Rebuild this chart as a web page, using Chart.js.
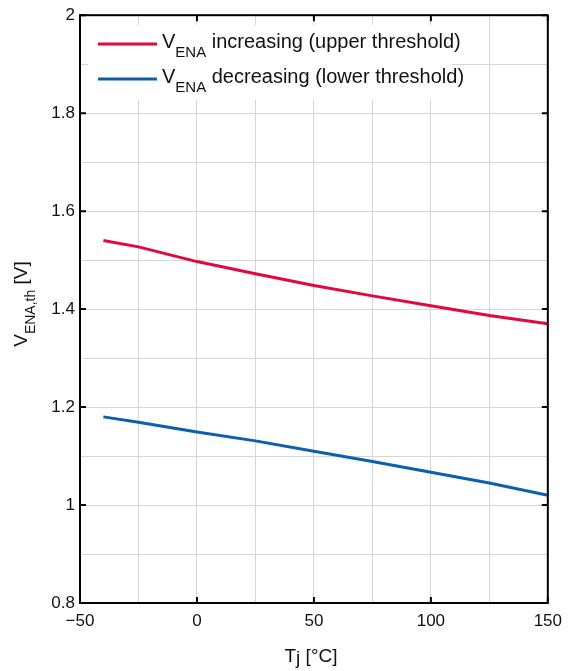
<!DOCTYPE html>
<html>
<head>
<meta charset="utf-8">
<script src="https://cdn.jsdelivr.net/npm/chart.js@4"></script>
<style>
  html, body { margin: 0; padding: 0; background: #fff; }
  #wrap { width: 570px; height: 671px; }
</style>
</head>
<body>
<div id="wrap"><canvas id="chart" width="570" height="671"></canvas></div>
<script>
// values
const temps = [-40, -25, 0, 25, 50, 75, 100, 125, 150];
const upperThreshold = [1.540, 1.527, 1.497, 1.472, 1.448, 1.427, 1.407, 1.387, 1.370];
const lowerThreshold = [1.180, 1.169, 1.149, 1.131, 1.110, 1.089, 1.067, 1.045, 1.020];
const xTicks = [-50, 0, 50, 100, 150];
const yTicks = [0.8, 1, 1.2, 1.4, 1.6, 1.8, 2];

const RED = '#e3073d';
const BLUE = '#0b5fae';
const FONT = '"Liberation Sans", Arial, Helvetica, sans-serif';

const isMajor = (v, list) => list.some(t => Math.abs(t - v) < 1e-6);

// draws text pieces (with sub offsets) from x on baseline y
function subText(ctx, x, y, parts) {
    parts.forEach(p => {
        ctx.font = p.size + 'px ' + FONT;
        ctx.fillText(p.text, x, y + (p.dy || 0));
        x += ctx.measureText(p.text).width;
    });
    return x;
}
function subWidth(ctx, parts) {
    return parts.reduce((w, p) => { ctx.font = p.size + 'px ' + FONT; return w + ctx.measureText(p.text).width; }, 0);
}

const frame = {
    id: 'frame',
    beforeDatasetsDraw(chart) {
        // legend box hides the grid behind it
        const ctx = chart.ctx;
        ctx.save();
        ctx.fillStyle = '#fff';
        ctx.fillRect(88, 25, 364, 75);
        ctx.restore();
    },
    afterDraw(chart) {
        const { ctx, chartArea: a, scales } = chart;
        ctx.save();
        ctx.strokeStyle = '#000';
        ctx.lineWidth = 2;
        ctx.strokeRect(a.left, a.top, a.right - a.left, a.bottom - a.top);
        // inward major ticks
        const len = 6;
        ctx.beginPath();
        xTicks.forEach(v => {
            const px = scales.x.getPixelForValue(v);
            ctx.moveTo(px, a.bottom); ctx.lineTo(px, a.bottom - len);
            ctx.moveTo(px, a.top); ctx.lineTo(px, a.top + len);
        });
        yTicks.forEach(v => {
            const py = scales.y.getPixelForValue(v);
            ctx.moveTo(a.left, py); ctx.lineTo(a.left + len, py);
            ctx.moveTo(a.right, py); ctx.lineTo(a.right - len, py);
        });
        ctx.stroke();

        // legend
        ctx.fillStyle = '#111';
        ctx.textBaseline = 'alphabetic';
        ctx.textAlign = 'left';
        const rows = [
            { color: RED, y: 44, label: ' increasing (upper threshold)' },
            { color: BLUE, y: 79, label: ' decreasing (lower threshold)' },
        ];
        rows.forEach(r => {
            ctx.strokeStyle = r.color;
            ctx.lineWidth = 3;
            ctx.beginPath(); ctx.moveTo(98, r.y); ctx.lineTo(157, r.y); ctx.stroke();
            subText(ctx, 162, r.y + 4, [
                { text: 'V', size: 20 },
                { text: 'ENA', size: 15, dy: 9 },
                { text: r.label, size: 20 },
            ]);
        });

        // x axis title
        const xt = [{ text: 'T', size: 19 }, { text: 'j', size: 19, dy: 2 }, { text: ' [°C]', size: 19 }];
        const xw = subWidth(ctx, xt);
        subText(ctx, 311 - xw / 2, 662, xt);

        // y axis title
        const yt = [{ text: 'V', size: 19 }, { text: 'ENA,th', size: 14, dy: 8 }, { text: ' [V]', size: 19 }];
        const yw = subWidth(ctx, yt);
        ctx.translate(27, 304);
        ctx.rotate(-Math.PI / 2);
        subText(ctx, -yw / 2, 0, yt);
        ctx.restore();
    }
};

new Chart(document.getElementById('chart'), {
    type: 'line',
    data: {
        datasets: [
            { label: 'upper', data: temps.map((t, i) => ({ x: t, y: upperThreshold[i] })), borderColor: RED, borderWidth: 3, pointRadius: 0, tension: 0 },
            { label: 'lower', data: temps.map((t, i) => ({ x: t, y: lowerThreshold[i] })), borderColor: BLUE, borderWidth: 3, pointRadius: 0, tension: 0 },
        ],
    },
    options: {
        responsive: false, animation: false,
        layout: { padding: { top: 15, right: 21, left: 0, bottom: 0 } },
        plugins: { legend: { display: false }, tooltip: { enabled: false } },
        scales: {
            x: {
                type: 'linear', min: -50, max: 150,
                afterFit: s => { s.height = 68; },
                grid: { color: '#d6d6d6', lineWidth: 1, drawTicks: false },
                border: { display: false },
                ticks: {
                    stepSize: 25, padding: 8, color: '#111', font: { family: FONT, size: 17 },
                    maxRotation: 0, autoSkip: false,
                    callback: v => isMajor(v, xTicks) ? (v < 0 ? '\u2212' + Math.abs(v) : String(v)) : '',
                },
            },
            y: {
                min: 0.8, max: 2,
                afterFit: s => { s.width = 80; },
                grid: { color: '#d6d6d6', lineWidth: 1, drawTicks: false },
                border: { display: false },
                ticks: {
                    stepSize: 0.1, padding: 5, color: '#111', font: { family: FONT, size: 17 },
                    autoSkip: false,
                    callback: v => isMajor(v, yTicks) ? String(Math.round(v * 10) / 10) : '',
                },
            },
        },
    },
    plugins: [frame],
});
</script>
</body>
</html>
